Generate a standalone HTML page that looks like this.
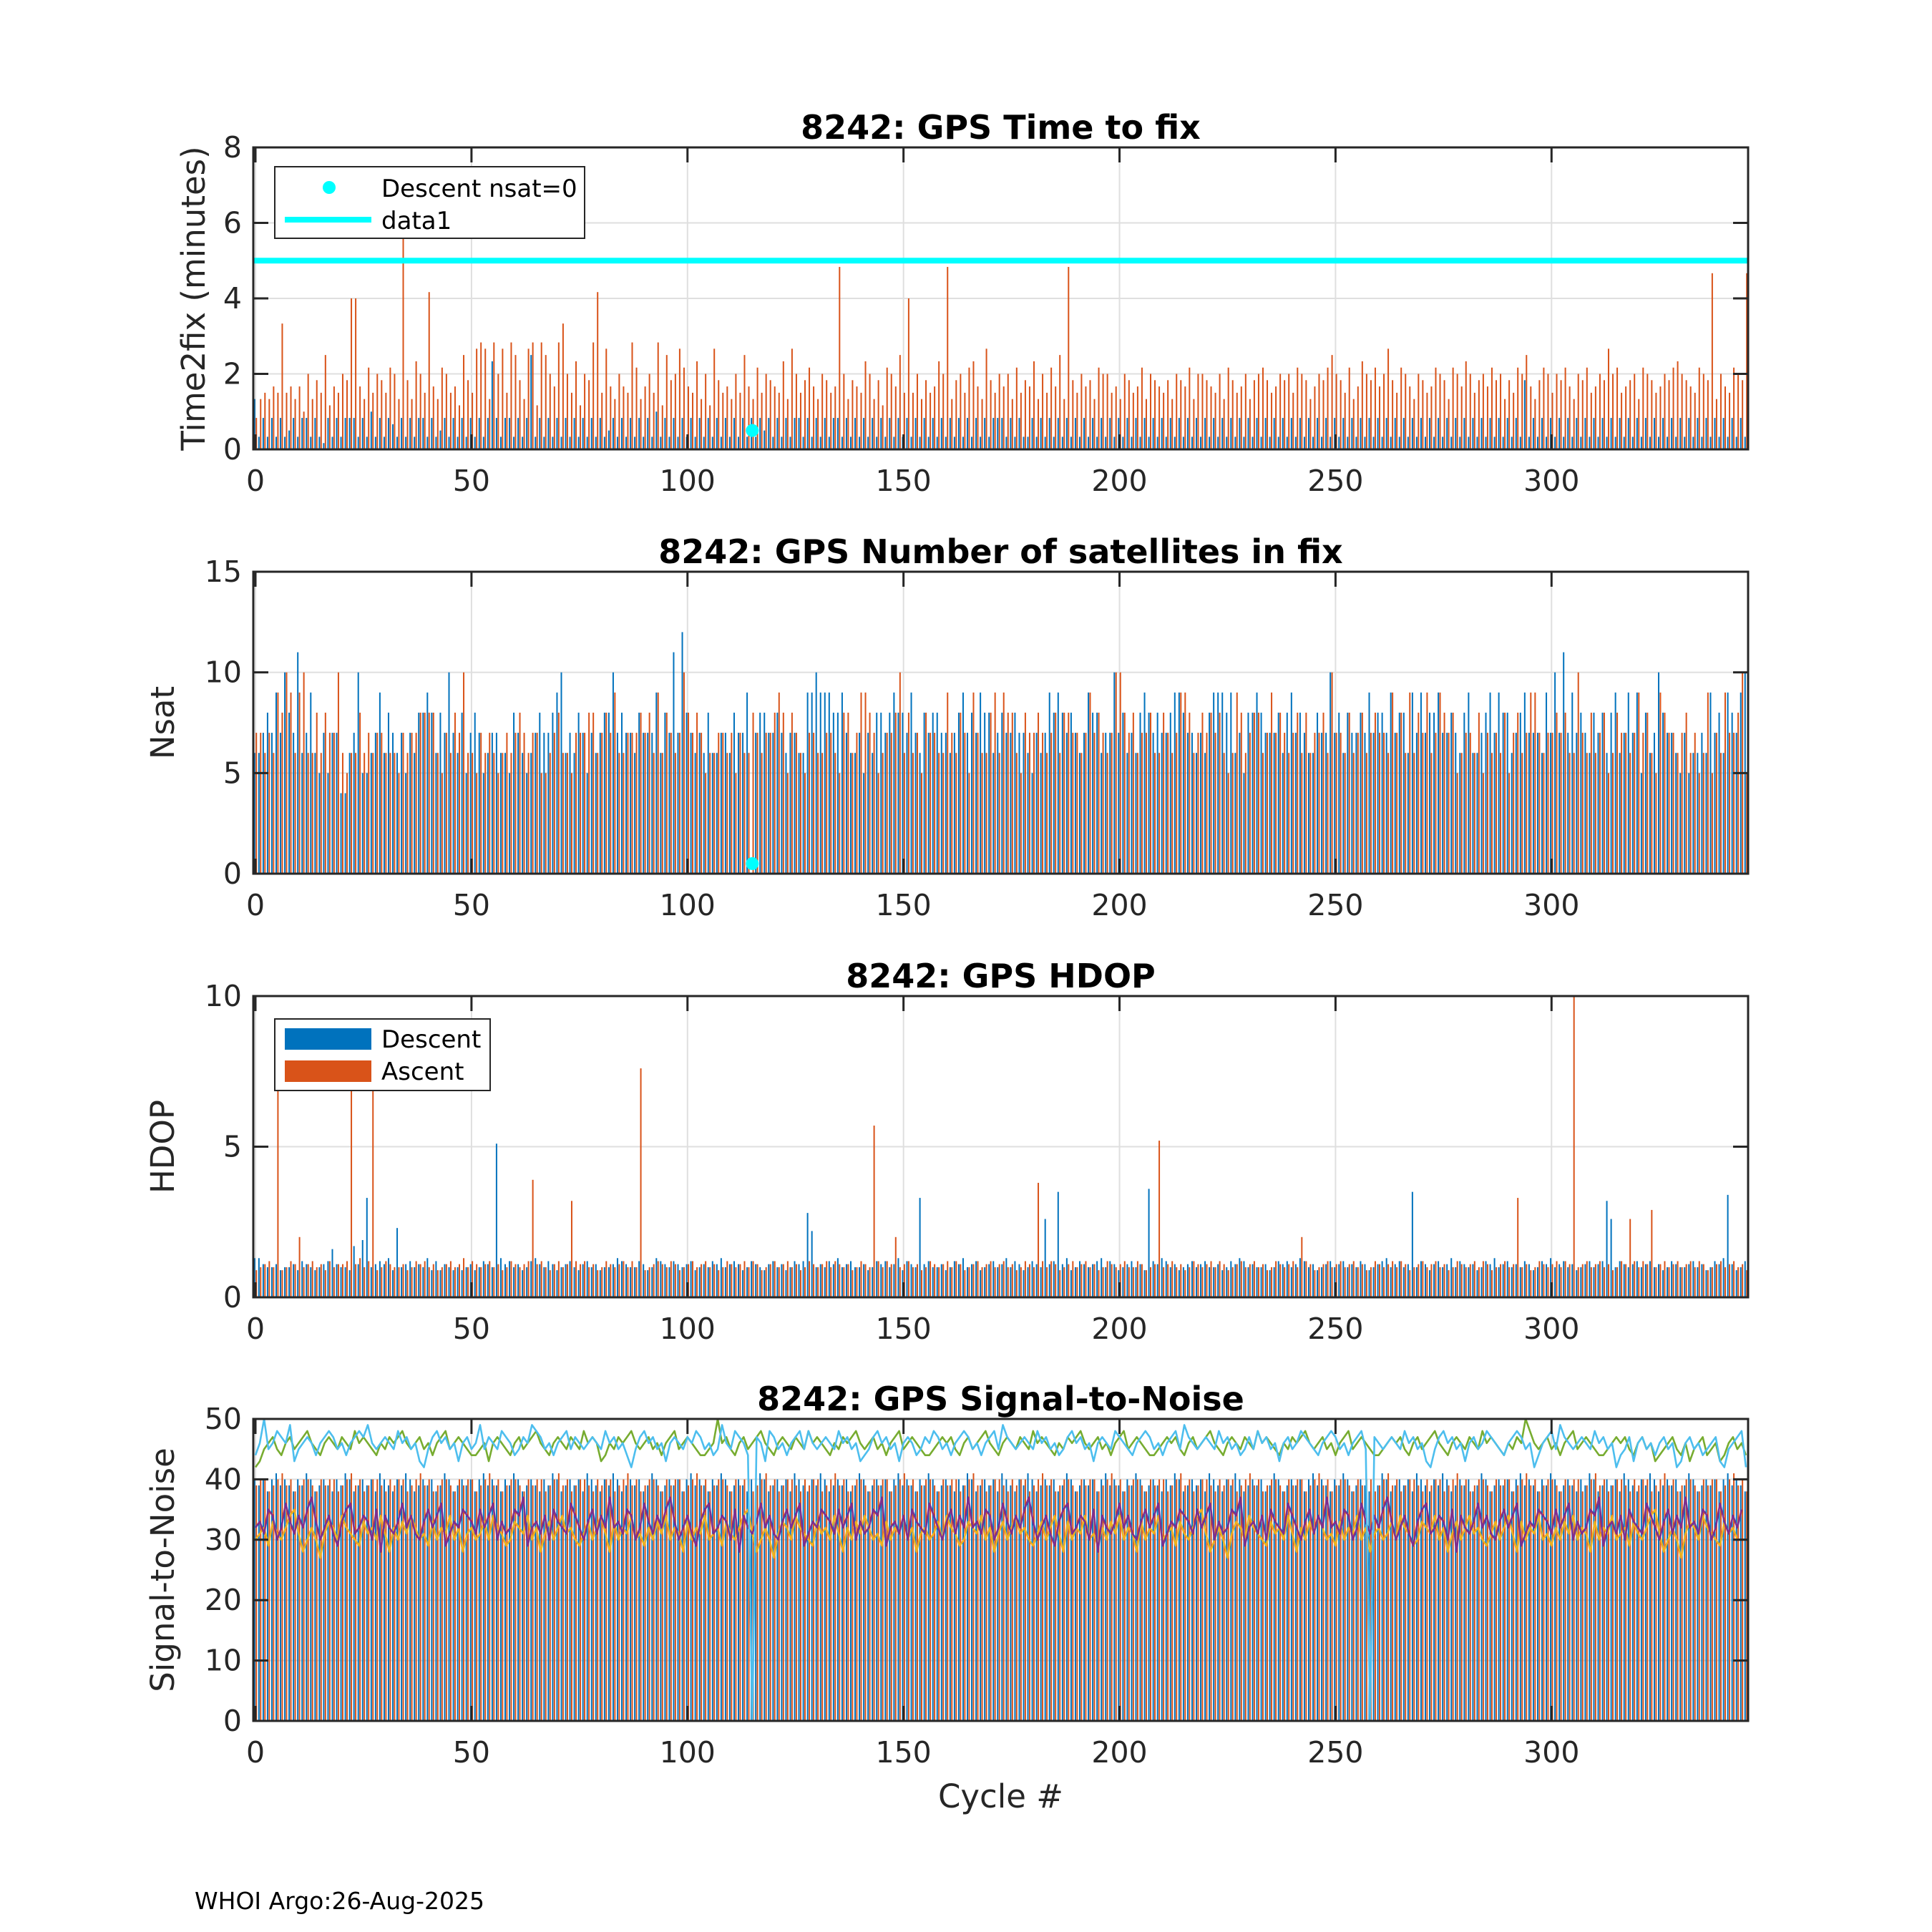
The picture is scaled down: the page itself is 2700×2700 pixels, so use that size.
<!DOCTYPE html>
<html><head><meta charset="utf-8"><style>
html,body{margin:0;padding:0;background:#fff}
svg{display:block}
text{font-family:"DejaVu Sans","Liberation Sans",sans-serif;fill:#262626}
</style></head><body>
<svg id="fig" width="2700" height="2700" viewBox="0 0 2700 2700" xmlns="http://www.w3.org/2000/svg">
<text x="272" y="2668" font-size="33" style="fill:#000">WHOI Argo:26-Aug-2025</text>
</svg>
<script>
// ---------- data (one char per cycle) ----------
const NCYC = 346;
const xTicks = [0,50,100,150,200,250,300];
const t2fTicks = [0,2,4,6,8];
const nsatTicks = [0,5,10,15];
const hdopTicks = [0,5,10];
const snrTicks = [0,10,20,30,40,50];
// Time to fix, units of 1/6 minute, base36
const t2fDescStr = "8252525235255252152525552526252542525255252352525252525e52552525f2525252525252525235252525252625252525252525252525252535252525525252525525252525252525252525252525252525252555252522525252525252525252525252525252525252525252525252525252525252525252525252525252525252525252525252525252525252525252b252525252525252525252525252525252525252525252525252525252525";
const t2fAscStr = "5898a9k9a8a6c8b9f7a9cbooa8d9cb9dc8yb8ec9pa8dc9a7fb9ghg8hcg9hfb8gh7hfcahkc9e7cbhp9ga8ca9hd8ac9h7fbcgda9e8c7gb9a8c9fa8d9cba9e8gc9bda8cb9atc8ba9ec8b7dcaf9o9c8b9aect8bc9dea8gb9cac8d9bae8c9daf8tb9cab8dcc9a8cb9ad8cba9b8cbad8ccba9c8db9ac8bcdb9acbc9dcb8acbdfcb9d8aecbdacgb9dca8cb9adcb8dcaec9bcadbc8b9dcfa8bdc9cbda8cbd9acbgcd9abc8dcb9acbdecba9dcbs8ca9dcbs";
const t2fLine = [5];
const nsatZeroCycles = [115];
const nsatZeroValues = [0.5];
// number of satellites, base36
const nsatDescStr = "6678797a87b6796575774467a55679687675768898687a7685787567766587656787789a67687576788a7877687779687b7c876768667768779078877876776699a99988976675768878988797687887767897879886787787765767989878767988677a7867689878778998776768999896758898777868978766877a786877879788797886979788977876896678979886789777697a7b797876878689679795867a8776575667697869879a";
const nsatAscStr = "7767698a969a6686877a6566867677666576778888657687a66576765676787677556786657778867879667778786968767a8787566776757668767789858765776677658867998756778a6867587766976875976689698865877876786887767978767aa878677866876799867878786569867886797876786867786a77686786787769786968796798785677685767685786799767787866a7686785687767978659877678675695769778a5";
// HDOP, tenths, base36, plus spikes
const hdopDescStr = "ddbaab9aab9cba9abcgbaa9hbjxabcbd9nabcabad9c9ba9a9ab9acbaxdbcab9acdbacb9abca9bcab9aabdcbaacb9adcbacbabc9abacbdabcb9acba9bcab9acbcbmabacbdabcaab9acbcabd9cbaxbcaab9acbdabc9abcabdacb9acbaqbcabd9acbabcdacb9abcab9acbdcab9abcabcaab9acbdcabaab9acbcabdcab9abcabcabacb9abcdabcabaacb9bcabdacbab9acbdabcabacb9acbdabcab9abcabcbqacbabcabcab9acbaabcab9acbdab9aca";
const hdopAscStr = "9abcab9acbkabcab9cabbcabdacb9acbaab9acbcab9abcabdacbabcab9acbabcabca9bcabacbcab9acbabcacab9abcbacb9abcabcab9acbabcacb9abcabcab9acbabcacbab9acbabcacbkabcab9acbabcacb9abcabcabcab9acbabcacb9abcabcab9acbabcaacb9abcabcab9acbabcacb9abcabcab9acbabcakcb9abcabcabcab9acbabcacb9abcabcab9acbabcacb9abcabcab9acbabcacb9abcabcab9acbqcacb9abcabcabcacb9abcabcab9a";
const hdopAscSpikeCycles = [5,22,27,64,73,89,143,181,209,305,292,323];
const hdopAscSpikeValues = [7,7,7.3,3.9,3.2,7.6,5.7,3.8,5.2,10,3.3,2.9];
const hdopDescSpikeCycles = [26,56,128,186,207,268,313,341];
const hdopDescSpikeValues = [3.3,5.1,2.8,3.5,3.6,3.5,3.2,3.4];
// Signal-to-noise: value = 20 + base36
const snrDescStr = "kjkikljkjikjlkijkjikjlkijkjkilkjikjlkijkjkijlkijkjkikljkjikjlkijkjikjlkijkjkilkjikjlkijkjkijlkijkjkikljkjikjlkijkjikjlkijkjkilkjikjlkijkjkijlkijkjkikljkjikjlkijkjikjlkijkjkilkjikjlkijkjkijlkijkjkikljkjikjlkijkjikjlkijkjkilkjikjlkijkjkijlkijkjkikljkjikjlkijkjikjlkijkjkilkjikjlkijkjkijlkijkjkikljkjikjlkijkjikjlkijkjkilkjikjlkijkjkijlkijkjkikljkjikj";
const snrAscStr = "jkkijkljkijkkjikjkkijkljkijkkjikjkkijkljkijkkjikjkkijkljkijkkjikjkkijkljkijkkjikjkkijkljkijkkjikjkkijkljkijkkjikjkkijkljkijkkjikjkkijkljkijkkjikjkkijkljkijkkjikjkkijkljkijkkjikjkkijkljkijkkjikjkkijkljkijkkjikjkkijkljkijkkjikjkkijkljkijkkjikjkkijkljkijkkjikjkkijkljkijkkjikjkkijkljkijkkjikjkkijkljkijkkjikjkkijkljkijkkjikjkkijkljkijkkjikjkkijkljkijk";
const snrCyanStr = "oqupqsrqtnpqrqoqrsrpqoqrsrtqpqrqpsqrpqnmprsqrpqnqrpqtprqpsrqoprqtsrpqoqrsprqpqrqpsqrpqomprsqrpqnqrqprqsrpqoptqpsrqoprqnsrpqoqrspsqpqrqpsqrpqnoprsqrpqnqrqoprqsrpqoqrsrpqoqrsptrqpqrqpsqrpqoprsqrpqnqrqpsrqpoqrsrpqoqrsptrqpqrqpsqrpqoprpsqrpqnqrpqsrqpoqrsrpqoqrsptrqpqrqpsqrpqnmprsqrpqnqrpqsrqpoqrsrpqmoqrsptrqpqrqpsqrpqmoprnqrpqoqrpqmnqrpqopqrnmpqrsmq";
const snrCyanZeroCycles = [115, 258];
const snrGreenStr = "mnpqrpoqrpqrsqpoqrqprqpsqrqpoqprqrsqpqrpqoqrspqrqpoopqnqrqpoqrpqrsqpoqrqprqpsqrqnoqprqrsqpqrpqoqrspqrqpoopquqrpoqrpqrsqpoqrqprqpsqrqpoqprqrsqpqrpqoqrspqrqpoopqrqrpoqrpqrsqpoqrqprqpsqrqpoqprqrsqpqrpqoqrspqrqpoopqrqrpoqrpqrsqpoqrqprqpsqrqpoqprqrsqpqrpqoqrspqrqpoopqrqrpoqrpqrsqpoqrqprqpsqrqpoqprqusqpqrpqoqrspqrqpoopqrqrpoqrpqnopqrpoqnpqropqnoqrpqoqpq";
const snrPurpleStr = "cdbfeacgdbecfhdaceb9dfgbcedaf8ecbdgcebadfceg9bdcfedbfcegadbcfeh9cdbeafdcbgecadfbechcdbfeacgdbecfhdaceb9dfgbcedaf8ecbdgcebadfceg9bdcfedbfcegadbcfeh9cdbeafdcbgecadfbechcdbfeacgdbecfhdaceb9dfgbcedaf8ecbdgcebadfceg9bdcfedbfcegadbcfeh9cdbeafdcbgecadfbechcdbfeacgdbecfhdaceb9dfgbcedaf8ecbdgcebadfceg9bdcfedbfcegadbcfeh9cdbeafdcbgecadfbechcdbfeacgdbecf";
const snrYellowStr = "abc9dbacefb8aca7bdcaecba9dbcaeb8cadbecab9dacbeac8bcabdaecb9adcbeac8bdacebca9bdaceb8dacbeab9cadbeacb8dacbeabc9dbacefb8aca7bdcaecba9dbcaeb8cadbecab9dacbeac8bcabdaecb9adcbeac8bdacebca9bdaceb8dacbeab9cadbeacb8dacbeabc9dbacefb8aca7bdcaecba9dbcaeb8cadbecab9dacbeac8bcabdaecb9adcbeac8bdacebca9bdaceb8dacbeab9cadbeacb8dacbeabc9dbacefb8aca7bdcaecba9dbca";

function dec(s, f){ return s.slice(0, NCYC).split('').map(ch => f(ch)); }
const t2fDesc = dec(t2fDescStr, c => parseInt(c,36)/6);
const t2fAsc = dec(t2fAscStr, c => parseInt(c,36)/6);
const nsatDesc = dec(nsatDescStr, c => parseInt(c,36));
nsatZeroCycles.forEach(c => { nsatDesc[c] = 0; });
const nsatAsc = dec(nsatAscStr, c => parseInt(c,36));
const hdopDesc = dec(hdopDescStr, c => parseInt(c,36)/10);
const hdopAsc = dec(hdopAscStr, c => parseInt(c,36)/10);
hdopAscSpikeCycles.forEach((c,i)=>{ hdopAsc[c] = hdopAscSpikeValues[i]; });
hdopDescSpikeCycles.forEach((c,i)=>{ hdopDesc[c] = hdopDescSpikeValues[i]; });
const snrF = c => 20 + parseInt(c,36);
const snrDesc = dec(snrDescStr, snrF);
const snrAsc = dec(snrAscStr, snrF);
const snrCyan = dec(snrCyanStr, snrF);
snrCyanZeroCycles.forEach(c => { snrCyan[c] = 0; });
const snrGreen = dec(snrGreenStr, snrF);
const snrPurple = dec(snrPurpleStr, snrF);
const snrYellow = dec(snrYellowStr, snrF);

// ---------- drawing ----------
const NS = "http://www.w3.org/2000/svg";
const svg = document.getElementById('fig');
const L = 354, R = 2443, XMIN = -0.5, XMAX = 345.5;
const xs = c => L + (c - XMIN) / (XMAX - XMIN) * (R - L);
function mk(tag, attrs, parent){
  const e = document.createElementNS(NS, tag);
  for (const k in attrs) e.setAttribute(k, attrs[k]);
  (parent || svg).appendChild(e);
  return e;
}
const BLUE = "#0072BD", ORANGE = "#D95319";

function panel(key, top, bot, ymax, yTicks, title, ylabel, ylx){
  const g = mk('g', {});
  
  
  const ys = v => bot - v / ymax * (bot - top);
  const clip = mk('clipPath', {id: 'clip-' + key}, g);
  mk('rect', {x: L, y: top, width: R - L, height: bot - top}, clip);
  xTicks.forEach(t => {
    const ln = mk('line', {x1: xs(t), x2: xs(t), y1: top, y2: bot, stroke: '#dfdfdf', 'stroke-width': 2}, g);
    
    
  });
  yTicks.forEach(t => {
    const ln = mk('line', {x1: L, x2: R, y1: ys(t), y2: ys(t), stroke: '#dfdfdf', 'stroke-width': 2}, g);
    
    
  });
  const plot = mk('g', {'clip-path': 'url(#clip-' + key + ')'}, g);
  
  
  const fr = mk('rect', {x: L, y: top, width: R - L, height: bot - top, fill: 'none', stroke: '#262626', 'stroke-width': 3}, g);
  
  
  xTicks.forEach(t => {
    mk('line', {x1: xs(t), x2: xs(t), y1: bot, y2: bot - 21, stroke: '#262626', 'stroke-width': 3}, g);
    mk('line', {x1: xs(t), x2: xs(t), y1: top, y2: top + 21, stroke: '#262626', 'stroke-width': 3}, g);
    const tx = mk('text', {x: xs(t), y: bot + 58, 'font-size': 41, 'text-anchor': 'middle'}, g);
    tx.textContent = t;
    
    
  });
  yTicks.forEach(t => {
    mk('line', {x1: L, x2: L + 21, y1: ys(t), y2: ys(t), stroke: '#262626', 'stroke-width': 3}, g);
    mk('line', {x1: R, x2: R - 21, y1: ys(t), y2: ys(t), stroke: '#262626', 'stroke-width': 3}, g);
    const tx = mk('text', {x: L - 16, y: ys(t) + 14, 'font-size': 41, 'text-anchor': 'end'}, g);
    tx.textContent = t;
    
    
  });
  const ti = mk('text', {x: (L + R) / 2, y: top - 12, 'font-size': 46, 'font-weight': 'bold', 'text-anchor': 'middle'}, g);
  ti.textContent = title;
  ti.style.fill = '#000';
  
  
  const yl = mk('text', {x: ylx, y: (top + bot) / 2, 'font-size': 45, 'text-anchor': 'middle', transform: 'rotate(-90 ' + ylx + ' ' + (top + bot) / 2 + ')'}, g);
  yl.textContent = ylabel;
  
  
  return {plot, ys, g};
}

function bars(p, desc, asc){
  desc.forEach((v, c) => {
    const b = mk('rect', {x: xs(c - 0.2) - 1, y: p.ys(v), width: 2, height: Math.max(0, p.ys(0) - p.ys(v)), fill: BLUE}, p.plot);
    
    
  });
  asc.forEach((v, c) => {
    const b = mk('rect', {x: xs(c + 0.2) - 1, y: p.ys(v), width: 2, height: Math.max(0, p.ys(0) - p.ys(v)), fill: ORANGE}, p.plot);
    
    
  });
}
function dot(p, c, v){
  const d = mk('circle', {cx: xs(c), cy: p.ys(v), r: 9, fill: '#00FFFF'}, p.plot);
  
  
}
function line(p, arr, color, name){
  const pts = arr.map((v, c) => xs(c) + ',' + p.ys(v)).join(' ');
  const pl = mk('polyline', {points: pts, fill: 'none', stroke: color, 'stroke-width': 2.6, 'stroke-linejoin': 'round'}, p.plot);
  
  
}

// Panel 1
const p1 = panel('time-to-fix', 206, 628, 8, t2fTicks, '8242: GPS Time to fix', 'Time2fix (minutes)', 286);
bars(p1, t2fDesc, t2fAsc);
const ref = mk('line', {x1: L, x2: R, y1: p1.ys(t2fLine[0]), y2: p1.ys(t2fLine[0]), stroke: '#00FFFF', 'stroke-width': 8}, p1.plot);


nsatZeroCycles.forEach((c, i) => dot(p1, c, nsatZeroValues[i]));
const lg1 = mk('g', {}, p1.g);


mk('rect', {x: 384, y: 233, width: 433, height: 100, fill: '#fff', stroke: '#262626', 'stroke-width': 2}, lg1);
mk('circle', {cx: 460, cy: 262, r: 9, fill: '#00FFFF'}, lg1);
mk('line', {x1: 398, x2: 519, y1: 307, y2: 307, stroke: '#00FFFF', 'stroke-width': 8}, lg1);
let tt = mk('text', {x: 533, y: 275, 'font-size': 34}, lg1); tt.textContent = 'Descent nsat=0'; tt.style.fill = '#000';


tt = mk('text', {x: 533, y: 320, 'font-size': 34}, lg1); tt.textContent = 'data1'; tt.style.fill = '#000';



// Panel 2
const p2 = panel('nsat', 799, 1221, 15, nsatTicks, '8242: GPS Number of satellites in fix', 'Nsat', 243);
bars(p2, nsatDesc, nsatAsc);
nsatZeroCycles.forEach((c, i) => dot(p2, c, nsatZeroValues[i]));

// Panel 3
const p3 = panel('hdop', 1392, 1813, 10, hdopTicks, '8242: GPS HDOP', 'HDOP', 243);
bars(p3, hdopDesc, hdopAsc);
const lg3 = mk('g', {}, p3.g);


mk('rect', {x: 384, y: 1424, width: 301, height: 100, fill: '#fff', stroke: '#262626', 'stroke-width': 2}, lg3);
mk('rect', {x: 398, y: 1437, width: 121, height: 30, fill: BLUE}, lg3);
mk('rect', {x: 398, y: 1482, width: 121, height: 30, fill: ORANGE}, lg3);
tt = mk('text', {x: 533, y: 1464, 'font-size': 34}, lg3); tt.textContent = 'Descent'; tt.style.fill = '#000';


tt = mk('text', {x: 533, y: 1509, 'font-size': 34}, lg3); tt.textContent = 'Ascent'; tt.style.fill = '#000';



// Panel 4
const p4 = panel('snr', 1983, 2405, 50, snrTicks, '8242: GPS Signal-to-Noise', 'Signal-to-Noise', 243);
bars(p4, snrDesc, snrAsc);
line(p4, snrYellow, '#EDB120', 'snr-yellow-line');
line(p4, snrPurple, '#7E2F8E', 'snr-purple-line');
line(p4, snrGreen, '#77AC30', 'snr-green-line');
line(p4, snrCyan, '#4DBEEE', 'snr-cyan-line');
const xl = mk('text', {x: (L + R) / 2, y: 2526, 'font-size': 45, 'text-anchor': 'middle'});
xl.textContent = 'Cycle #';


</script>
</body></html>
